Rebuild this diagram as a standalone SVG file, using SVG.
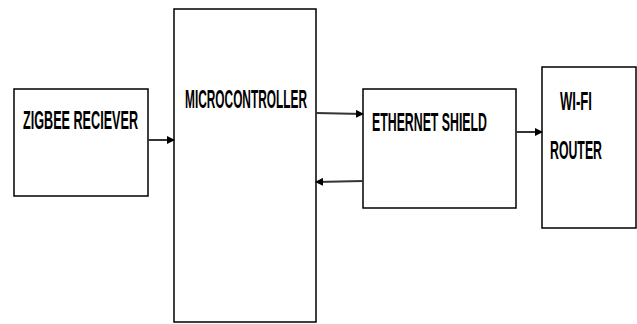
<svg xmlns="http://www.w3.org/2000/svg" width="637" height="324" viewBox="0 0 637 324">
<style>
.box{fill:#fff;stroke:#000;stroke-width:1.5}
.lbl{font-family:"Liberation Sans",Arial,sans-serif;font-weight:bold;font-size:25px;fill:#000}
.con{stroke:#333;stroke-width:2;fill:none;marker-end:url(#ah)}
</style>
<defs>
<marker id="ah" markerWidth="8" markerHeight="8" refX="7" refY="4" orient="auto" markerUnits="userSpaceOnUse">
<path d="M0,0 L8,4 L0,8 Z" fill="#000"/>
</marker>
</defs>
<rect width="637" height="324" fill="#fff"/>
<g id="zigbee">
<rect class="box" x="14" y="89" width="134" height="107"/>
<text class="lbl" x="23" y="129" textLength="115" lengthAdjust="spacingAndGlyphs">ZIGBEE RECIEVER</text>
</g>
<g id="microcontroller">
<rect class="box" x="174" y="9" width="142" height="313"/>
<text class="lbl" x="185" y="108" textLength="122" lengthAdjust="spacingAndGlyphs">MICROCONTROLLER</text>
</g>
<g id="ethernet">
<rect class="box" x="363" y="89" width="153" height="119"/>
<text class="lbl" x="372" y="131" textLength="115" lengthAdjust="spacingAndGlyphs">ETHERNET SHIELD</text>
</g>
<g id="wifi">
<rect class="box" x="542" y="67" width="94" height="161"/>
<text class="lbl" x="560" y="110" textLength="32" lengthAdjust="spacingAndGlyphs">WI-FI</text>
<text class="lbl" x="550" y="159" textLength="52" lengthAdjust="spacingAndGlyphs">ROUTER</text>
</g>
<g id="connectors">
<line class="con" x1="148" y1="140" x2="174" y2="140"/>
<line class="con" x1="316" y1="113" x2="363" y2="114"/>
<line class="con" x1="363" y1="181" x2="316" y2="182"/>
<line class="con" x1="516" y1="132" x2="542" y2="132"/>
</g>
</svg>
